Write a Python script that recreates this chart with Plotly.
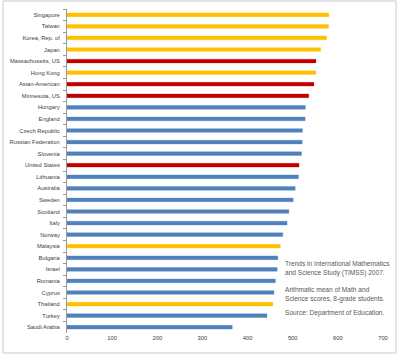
import plotly.graph_objects as go

countries = ["Singapore", "Taiwan", "Korea, Rep. of", "Japan", "Massachusetts, US", "Hong Kong",
             "Asian-American", "Minnesota, US", "Hungary", "England", "Czech Republic",
             "Russian Federation", "Slovenia", "United States", "Lithuania", "Australia", "Sweden",
             "Scotland", "Italy", "Norway", "Malaysia", "Bulgaria", "Israel", "Romania", "Cyprus",
             "Thailand", "Turkey", "Saudi Arabia"]
scores = [580, 579.5, 575, 562, 551.5, 551, 547, 535.5, 528, 527.5, 521.5, 521, 519.5, 514,
          512.5, 505.5, 501, 491.5, 487.5, 478, 472.5, 467, 465.5, 461.5, 458.5, 456, 443, 366]
groups = ["asia", "asia", "asia", "asia", "us", "asia", "us", "us", "other", "other", "other",
          "other", "other", "us", "other", "other", "other", "other", "other", "other", "asia",
          "other", "other", "other", "other", "asia", "other", "other"]
x_ticks = [0, 100, 200, 300, 400, 500, 600, 700]
note_lines = ["Trends in International Mathematics", "and Science Study (TIMSS) 2007.",
              "Arithmatic mean of Math and", "Science scores, 8-grade students.",
              "Source: Department of Education."]

fill = {"asia": "#FFC000", "us": "#C00000", "other": "#4F81BD"}
edge = {"asia": "rgba(255,192,0,0.35)", "us": "rgba(192,0,0,0.3)", "other": "rgba(79,129,189,0.35)"}

fig = go.Figure(go.Bar(
    x=scores, y=countries, orientation="h", width=0.32,
    marker=dict(color=[fill[g] for g in groups],
                line=dict(color=[edge[g] for g in groups], width=1)),
))

W, H = 400, 356
L, R, T, B = 67, 17, 9, 23
pw, ph = W - L - R, H - T - B

def px(x):
    return (x - L) / pw

def py(y):
    return (H - B - y) / ph

note_y = [263, 273, 289, 299, 313]
annotations = [dict(xref="paper", yref="paper", x=px(283), y=py(yy), xanchor="left",
                    yanchor="middle", showarrow=False, text=t,
                    font=dict(family="Liberation Sans, Arial, sans-serif", size=6.6, color="#595959"))
               for t, yy in zip(note_lines, note_y)]

fig.update_layout(
    width=W, height=H,
    margin=dict(l=L, r=R, t=T, b=B),
    paper_bgcolor="white", plot_bgcolor="white",
    showlegend=False,
    font=dict(family="Liberation Sans Narrow, Liberation Sans, Arial, sans-serif", size=5.8, color="#404040"),
    xaxis=dict(range=[0, 700], tickvals=x_ticks, showgrid=False, zeroline=False,
               showline=False, ticks="", automargin=False,
               tickfont=dict(family="Liberation Sans, Arial, sans-serif", size=5.8, color="#404040")),
    yaxis=dict(autorange="reversed", showline=True, linecolor="#9a9a9a", linewidth=1,
               ticks="outside", ticklen=3, tickcolor="#9a9a9a", tickson="boundaries",
               showgrid=False, automargin=False, ticklabelstandoff=5,
               tickfont=dict(size=5.8, color="#404040")),
    shapes=[dict(type="rect", xref="paper", yref="paper", x0=px(3), x1=px(396), y0=py(353), y1=py(1),
                 line=dict(color="#c4ccd0", width=1))],
    annotations=annotations,
)

fig.write_html("out.html", config={"displayModeBar": False},
               post_script="document.body.style.margin='0';")
